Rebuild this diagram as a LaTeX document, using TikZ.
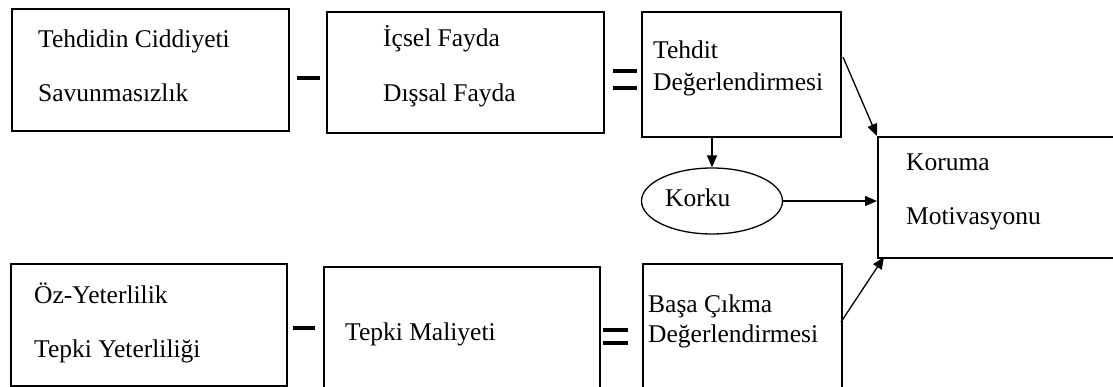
\documentclass[tikz,border=0pt]{standalone}
\usepackage{fontspec}
\setmainfont{Liberation Serif}
\usetikzlibrary{arrows.meta,shapes.geometric}
\begin{document}
\begin{tikzpicture}[x=1pt,y=-1pt,
  box/.style={draw,line width=1.6pt,anchor=north west,inner sep=0pt},
  txt/.style={anchor=base west,inner sep=0pt,font=\fontsize{25.5}{27}\selectfont},
  arr/.style={line width=1.3pt,-{Triangle[length=12pt,width=10pt]}},
  sign/.style={line width=4pt}]
\clip (0,0) rectangle (1113,387);
% boxes
\node[box,minimum width=277pt,minimum height=122pt] (A) at (11,8) {};
\node[box,minimum width=277pt,minimum height=121pt] (B) at (326,11) {};
\node[box,minimum width=199pt,minimum height=125pt] (C) at (641,11) {};
\node[box,minimum width=260pt,minimum height=121pt] (D) at (877,136) {};
\node[box,minimum width=276pt,minimum height=122pt] (E) at (10,263) {};
\node[box,minimum width=276pt,minimum height=130pt] (F) at (323,266) {};
\node[box,minimum width=199pt,minimum height=130pt] (G) at (642,263) {};
\node[draw,ellipse,line width=1.3pt,minimum width=141pt,minimum height=66pt,inner sep=0pt] (K) at (712,201) {};
% texts
\node[txt] (k1) at (665,207) {Korku};
\node[txt] (a1) at (38,48) {Tehdidin Ciddiyeti};
\node[txt] (a2) at (38,102) {Savunmasızlık};
\node[txt] (b1) at (383,47) {İçsel Fayda};
\node[txt] (b2) at (383,102) {Dışsal Fayda};
\node[txt] (c1) at (653,59) {Tehdit};
\node[txt] (c2) at (653,91) {Değerlendirmesi};
\node[txt] (d1) at (906,171) {Koruma};
\node[txt] (d2) at (906,225) {Motivasyonu};
\node[txt] (e1) at (34,303) {Öz-Yeterlilik};
\node[txt] (e2) at (34,357) {Tepki Yeterliliği};
\node[txt] (f1) at (345,340) {Tepki Maliyeti};
\node[txt] (g1) at (648,312) {Başa Çıkma};
\node[txt] (g2) at (648,342) {Değerlendirmesi};
% operators
\draw[sign] (297,78) -- (320,78);
\draw[sign] (613,71) -- (637,71);
\draw[sign] (613,88) -- (637,88);
\draw[sign] (293,328) -- (315,328);
\draw[sign] (603,330) -- (628,330);
\draw[sign] (603,343) -- (628,343);
% connectors
\coordinate (cs) at (843,57);
\coordinate (gs) at (841,322);
\coordinate (de) at (884,257);
\draw[arr] (K.north |- C.south) -- (K.north);
\draw[arr] (K.east) -- (K.east -| D.west);
\draw[arr] (cs) -- (D.north west);
\draw[arr] (gs) -- (de);
\end{tikzpicture}
\end{document}
